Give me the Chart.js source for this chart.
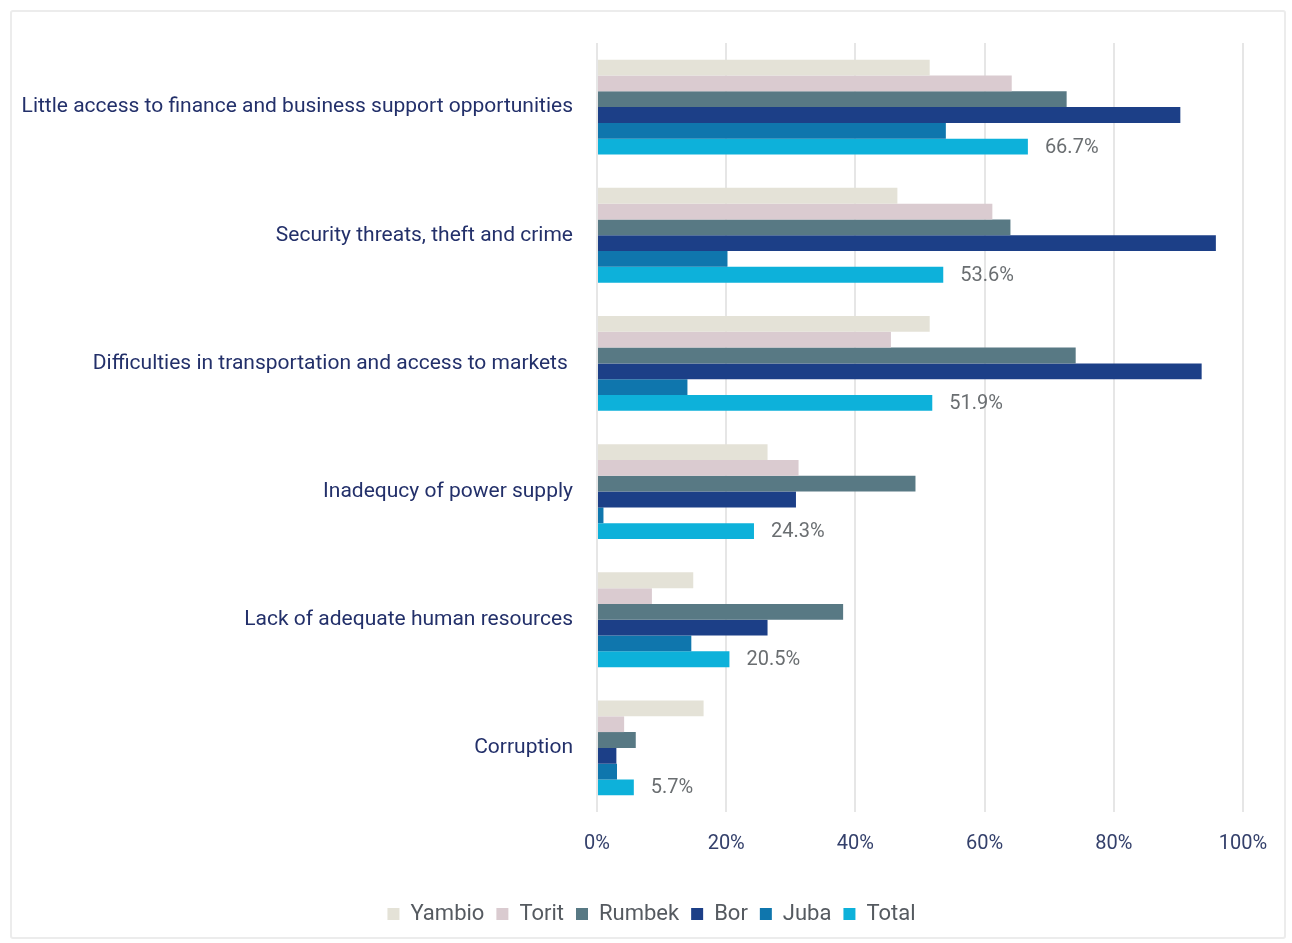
<!DOCTYPE html>
<html>
<head>
	<meta charset="utf-8">
	<title>Business constraints</title>
	<script src="https://cdn.jsdelivr.net/npm/chart.js@4/dist/chart.umd.min.js"></script>
	<style>
		body { margin: 0; background: #fff; }
		#frame { position: absolute; left: 10px; top: 10px; width: 1276px; height: 929px; border: 2px solid #ececec; border-radius: 3px; box-sizing: border-box; }
		#wrap { position: absolute; left: 0; top: 0; width: 1292px; height: 943px; }
	</style>
</head>
<body>
	<div id="frame"></div>
	<div id="wrap"><canvas id="chart" width="1292" height="943"></canvas></div>
	<script>
	// obstacles to business, share of respondents per town
	var categories = [
		"Little access to finance and business support opportunities",
		"Security threats, theft and crime",
		"Difficulties in transportation and access to markets ",
		"Inadequcy of power supply",
		"Lack of adequate human resources",
		"Corruption"
	];
	var yambio = [51.5, 46.5, 51.5, 26.4, 14.9, 16.5];
	var torit  = [64.2, 61.2, 45.5, 31.2, 8.5, 4.2];
	var rumbek = [72.7, 64.0, 74.1, 49.3, 38.1, 6.0];
	var bor    = [90.3, 95.8, 93.6, 30.8, 26.4, 3.0];
	var juba   = [54.0, 20.2, 14.0, 1.0, 14.6, 3.1];
	var total  = [66.7, 53.6, 51.9, 24.3, 20.5, 5.7];
	var xTicks = [0, 20, 40, 60, 80, 100];

	var series = [
		{ label: "Yambio", data: yambio, color: "#e4e2d7" },
		{ label: "Torit",  data: torit,  color: "#dacbd0" },
		{ label: "Rumbek", data: rumbek, color: "#587984" },
		{ label: "Bor",    data: bor,    color: "#1c3f87" },
		{ label: "Juba",   data: juba,   color: "#0f76ad" },
		{ label: "Total",  data: total,  color: "#0db1da" }
	];

	// writes the value next to the Total bars only
	var totalLabels = {
		id: "totalLabels",
		afterDatasetsDraw: function(chart) {
			var ctx = chart.ctx;
			var idx = chart.data.datasets.length - 1;
			var meta = chart.getDatasetMeta(idx);
			ctx.save();
			ctx.font = "20px Roboto";
			ctx.fillStyle = "#6a6e71";
			ctx.textAlign = "left";
			ctx.textBaseline = "middle";
			meta.data.forEach(function(bar, i) {
				ctx.fillText(total[i].toFixed(1) + "%", bar.x + 17, bar.y + 1);
			});
			ctx.restore();
		}
	};

	// legend sits a bit right of the plot centre
	var legendShift = {
		id: "legendShift",
		afterLayout: function(chart) {
			chart.legend.left += 30;
			chart.legend.right += 30;
		}
	};

	var ctx = document.getElementById("chart").getContext("2d");
	new Chart(ctx, {
		type: "bar",
		data: {
			labels: categories,
			datasets: series.map(function(s) {
				return { label: s.label, data: s.data, backgroundColor: s.color, borderWidth: 0 };
			})
		},
		plugins: [totalLabels, legendShift],
		options: {
			indexAxis: "y",
			responsive: false,
			animation: false,
			layout: { padding: { top: 43, right: 49, bottom: 8, left: 0 } },
			datasets: { bar: { categoryPercentage: 0.74, barPercentage: 1.0 } },
			scales: {
				x: {
					min: 0, max: 100,
					afterBuildTicks: function(s) { s.ticks = xTicks.map(function(v) { return { value: v }; }); },
					afterFit: function(s) { s.height = 79; },
					grid: { color: "#e6e6e6", lineWidth: 2, drawTicks: false },
					border: { display: false },
					ticks: {
						padding: 20,
						color: "#34406b",
						font: { family: "Roboto", size: 20 },
						callback: function(v) { return v + "%"; }
					}
				},
				y: {
					afterFit: function(s) { s.width = 597; },
					grid: { display: false, drawTicks: false },
					border: { display: false },
					ticks: {
						padding: 24,
						color: "#23306a",
						font: { family: "Roboto", size: 21 }
					}
				}
			},
			plugins: {
				legend: {
					position: "bottom",
					labels: {
						boxWidth: 12, boxHeight: 12,
						padding: 12,
						color: "#555a60",
						font: { family: "Roboto", size: 22 }
					}
				},
				tooltip: { enabled: false }
			}
		}
	});
	</script>
</body>
</html>
